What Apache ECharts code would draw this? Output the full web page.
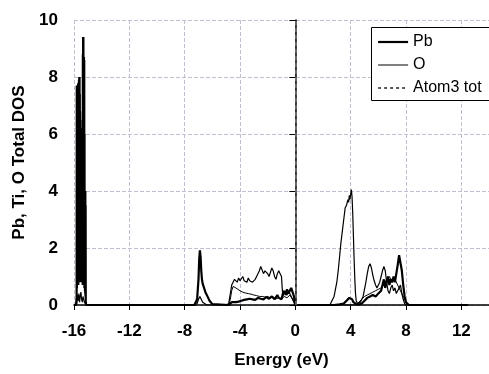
<!DOCTYPE html>
<html>
<head>
<meta charset="utf-8">
<script src="https://cdn.jsdelivr.net/npm/echarts@6/dist/echarts.min.js"></script>
<style>
html,body{margin:0;padding:0;background:#fff;}
#chart{width:489px;height:374px;}
</style>
</head>
<body>
<div id="chart"></div>
<script>
// Energy (eV) / DOS pairs
const xTicks = [-16, -12, -8, -4, 0, 4, 8, 12];
const yTicks = [0, 2, 4, 6, 8, 10];
const seriesNames = ['Pb', 'O', 'Atom3 tot'];

const pbData = [
  [-16,0],[-15.85,0],[-15.81,0.3],[-15.8,7.7],[-15.79,0.6],[-15.78,7.7],[-15.77,0.9],[-15.76,7.7],[-15.75,1.2],
  [-15.74,7.7],[-15.73,0.8],[-15.72,7.7],[-15.71,1.0],[-15.7,7.75],[-15.69,0.7],[-15.68,7.8],[-15.67,1.1],
  [-15.66,7.8],[-15.65,0.9],[-15.64,7.9],[-15.63,1.2],[-15.62,8.0],[-15.61,0.8],[-15.6,8.0],[-15.59,1.0],
  [-15.58,7.4],[-15.57,0.9],[-15.56,6.8],[-15.55,1.1],[-15.54,6.5],[-15.53,0.8],[-15.52,6.2],[-15.51,1.0],
  [-15.5,6.0],[-15.49,0.9],[-15.48,6.1],[-15.47,1.2],[-15.46,5.8],[-15.45,0.8],[-15.44,6.0],[-15.43,1.0],
  [-15.42,5.6],[-15.41,0.9],[-15.4,6.2],[-15.39,1.1],[-15.38,6.0],[-15.37,0.7],[-15.36,8.8],[-15.35,1.0],
  [-15.34,9.4],[-15.33,0.8],[-15.32,9.4],[-15.31,1.2],[-15.3,8.7],[-15.29,0.9],[-15.28,8.7],[-15.27,1.0],
  [-15.26,8.6],[-15.25,0.6],[-15.24,6.0],[-15.23,0.8],[-15.22,4.0],[-15.21,0.5],[-15.2,4.0],[-15.19,0.4],
  [-15.18,4.0],[-15.17,0.3],[-15.16,3.5],[-15.15,0.1],[-15.13,0],
  [-7.3,0],[-7.2,0.05],[-7.1,0.2],[-7.0,0.9],[-6.95,1.6],[-6.9,1.92],[-6.85,1.7],[-6.8,1.2],[-6.75,0.9],
  [-6.7,0.75],[-6.6,0.6],[-6.5,0.45],[-6.4,0.35],[-6.3,0.25],[-6.2,0.15],[-6.1,0.08],[-6.0,0.03],[-5.9,0],
  [-4.8,0],[-4.7,0.05],[-4.6,0.1],[-4.5,0.12],[-4.3,0.1],[-4.1,0.12],[-3.9,0.15],[-3.7,0.18],[-3.5,0.2],
  [-3.3,0.22],[-3.1,0.2],[-2.9,0.18],[-2.7,0.25],[-2.5,0.22],[-2.3,0.2],[-2.1,0.28],[-1.9,0.22],[-1.7,0.3],
  [-1.5,0.2],[-1.3,0.35],[-1.2,0.25],[-1.1,0.3],[-1.0,0.2],[-0.9,0.4],[-0.8,0.5],[-0.7,0.35],[-0.6,0.55],
  [-0.5,0.4],[-0.4,0.5],[-0.3,0.6],[-0.2,0.45],[-0.15,0.5],[-0.1,0.3],[-0.05,0.1],[0,0],
  [2.8,0],[3.2,0.02],[3.5,0.05],[3.7,0.15],[3.9,0.25],[4.0,0.3],[4.1,0.2],[4.2,0.1],[4.4,0.03],[4.6,0.02],
  [4.8,0.05],[5.0,0.15],[5.2,0.25],[5.4,0.3],[5.6,0.35],[5.8,0.3],[6.0,0.4],[6.2,0.5],[6.3,0.7],[6.4,0.9],
  [6.5,0.6],[6.6,0.8],[6.7,1.0],[6.8,0.7],[6.9,0.9],[7.0,0.8],[7.1,1.0],[7.2,0.8],[7.3,1.1],[7.4,1.4],
  [7.5,1.75],[7.55,1.8],[7.6,1.7],[7.7,1.2],[7.8,0.7],[7.9,0.3],[8.0,0.1],[8.1,0.03],[8.2,0],[12.5,0]
];

const oData = [
  [-16,0],[-15.8,0.05],[-15.75,0.35],[-15.7,0.15],[-15.65,0.4],[-15.6,0.1],[-15.55,0.3],[-15.5,0.45],
  [-15.45,0.2],[-15.4,0.1],[-15.35,0.3],[-15.3,0.35],[-15.25,0.1],[-15.2,0.05],[-15.1,0],
  [-7.3,0],[-7.1,0.05],[-7.0,0.2],[-6.9,0.3],[-6.8,0.25],[-6.7,0.1],[-6.6,0.04],[-6.4,0],
  [-4.9,0],[-4.8,0.1],[-4.7,0.4],[-4.6,0.7],[-4.5,0.8],[-4.4,0.9],[-4.3,0.85],[-4.2,0.8],[-4.1,0.95],
  [-4.0,0.85],[-3.9,0.9],[-3.8,1.0],[-3.7,0.85],[-3.6,0.9],[-3.5,0.8],[-3.4,0.95],[-3.3,0.85],[-3.2,0.9],
  [-3.1,0.8],[-3.0,0.85],[-2.9,0.9],[-2.8,1.0],[-2.7,1.05],[-2.6,1.2],[-2.5,1.35],[-2.45,1.4],[-2.4,1.3],
  [-2.3,1.1],[-2.2,1.2],[-2.1,1.25],[-2.0,1.1],[-1.9,1.0],[-1.8,1.15],[-1.7,1.3],[-1.6,1.2],[-1.5,1.0],
  [-1.4,0.9],[-1.3,1.1],[-1.2,1.2],[-1.1,1.1],[-1.0,1.0],[-0.95,0.6],[-0.9,0.3],[-0.8,0.45],[-0.7,0.5],
  [-0.6,0.35],[-0.5,0.5],[-0.4,0.4],[-0.3,0.3],[-0.2,0.25],[-0.1,0.1],[0,0],
  [2.5,0],[2.6,0.05],[2.8,0.3],[3.0,0.8],[3.1,1.2],[3.2,1.7],[3.3,2.2],[3.4,2.6],[3.5,3.0],[3.6,3.4],
  [3.7,3.5],[3.8,3.7],[3.85,3.6],[3.9,3.85],[3.95,3.7],[4.0,3.9],[4.05,4.05],[4.1,3.8],[4.15,3.2],
  [4.2,2.4],[4.25,1.6],[4.3,0.9],[4.35,0.4],[4.4,0.15],[4.5,0.05],[4.7,0.1],[4.9,0.3],[5.1,0.8],[5.2,1.1],
  [5.3,1.35],[5.4,1.45],[5.5,1.3],[5.6,1.05],[5.7,0.85],[5.8,0.7],[5.9,0.6],[6.0,0.65],[6.1,0.8],[6.2,1.0],
  [6.3,1.2],[6.4,1.35],[6.45,1.4],[6.5,1.2],[6.6,0.8],[6.7,0.5],[6.8,0.4],[6.9,0.6],[7.0,0.7],[7.1,0.5],
  [7.2,0.6],[7.3,0.4],[7.4,0.5],[7.5,0.6],[7.6,0.7],[7.7,0.4],[7.8,0.2],[7.9,0.05],[8.0,0]
];

const atom3Data = [
  [-4.8,0],[-4.7,0.2],[-4.6,0.5],[-4.5,0.65],[-4.4,0.7],[-4.3,0.6],[-4.2,0.55],[-4.0,0.5],[-3.8,0.45],
  [-3.6,0.42],[-3.4,0.4],[-3.2,0.38],[-3.0,0.35],[-2.8,0.33],[-2.6,0.3],[-2.4,0.3],[-2.2,0.28],[-2.0,0.3],
  [-1.8,0.25],[-1.6,0.28],[-1.4,0.22],[-1.2,0.25],[-1.0,0.2],[-0.8,0.3],[-0.6,0.25],[-0.4,0.35],[-0.2,0.2],
  [-0.1,0.1],[0,0],
  [4.4,0],[4.6,0.1],[4.8,0.2],[5.0,0.3],[5.2,0.35],[5.4,0.4],[5.6,0.45],[5.8,0.5],[6.0,0.55],[6.2,0.6],
  [6.4,0.7],[6.6,0.9],[6.8,1.0],[7.0,0.8],[7.2,0.9],[7.4,0.7],[7.6,0.5],[7.8,0.3],[8.0,0.1],[8.2,0]
];

const FONT = 'Liberation Sans, Arial, sans-serif';
const chart = echarts.init(document.getElementById('chart'), null, {renderer: 'canvas'});
const hiddenSymbol = {color: 'rgba(0,0,0,0)', borderColor: 'rgba(0,0,0,0)', borderWidth: 0};

chart.setOption({
  animation: false,
  backgroundColor: '#ffffff',
  color: ['#000', '#000', '#000'],
  grid: {left: 74, right: -4, top: 20, bottom: 68, containLabel: false},
  graphic: [{
    type: 'rect', left: 371, top: 27, z: 10,
    shape: {width: 150, height: 73},
    style: {fill: '#fff', stroke: '#000', lineWidth: 1}
  }],
  legend: {
    orient: 'vertical',
    left: 371, top: 27, z: 20,
    padding: [7, 6, 5, 6],
    itemWidth: 30, itemHeight: 16, itemGap: 7,
    borderWidth: 0,
    itemStyle: hiddenSymbol,
    data: [
      {name: seriesNames[0], itemStyle: hiddenSymbol, lineStyle: {color: '#000', width: 2.2, type: 'solid'}},
      {name: seriesNames[1], itemStyle: hiddenSymbol, lineStyle: {color: '#000', width: 1, type: 'solid'}},
      {name: seriesNames[2], itemStyle: hiddenSymbol, lineStyle: {color: '#000', width: 1.3, type: [3, 3]}}
    ],
    textStyle: {fontFamily: FONT, fontSize: 16, color: '#000'}
  },
  xAxis: {
    type: 'value',
    min: -16, max: 14, interval: 4,
    name: 'Energy (eV)', nameLocation: 'middle', nameGap: 47,
    nameTextStyle: {fontFamily: FONT, fontSize: 17, fontWeight: 'bold', color: '#000'},
    axisLine: {lineStyle: {color: '#000', width: 1.5}},
    axisTick: {show: true, length: 5, lineStyle: {color: '#000'}},
    axisLabel: {fontFamily: FONT, fontSize: 17, fontWeight: 'bold', color: '#000', margin: 18,
      showMaxLabel: false,
      formatter: function (v) { return xTicks.indexOf(v) >= 0 ? String(v) : ''; }},
    splitLine: {show: true, lineStyle: {color: '#c0c0d0', type: 'dashed', width: 1}}
  },
  yAxis: {
    type: 'value',
    min: 0, max: 10, interval: 2,
    name: 'Pb, Ti, O Total DOS', nameLocation: 'middle', nameGap: 42,
    nameTextStyle: {fontFamily: FONT, fontSize: 17, fontWeight: 'bold', color: '#000'},
    axisLine: {show: true, lineStyle: {color: '#000', width: 1.5}},
    axisTick: {show: true, length: 6, lineStyle: {color: '#000'}},
    axisLabel: {fontFamily: FONT, fontSize: 17, fontWeight: 'bold', color: '#000', margin: 16,
      formatter: function (v) { return yTicks.indexOf(v) >= 0 ? String(v) : ''; }},
    splitLine: {show: true, lineStyle: {color: '#c0c0d0', type: 'dashed', width: 1}}
  },
  series: [
    {
      name: 'Atom3 tot', type: 'line', data: atom3Data, showSymbol: false, symbol: 'none',
      itemStyle: {color: '#000'},
      lineStyle: {color: '#000', width: 1}, z: 2
    },
    {
      name: 'O', type: 'line', data: oData, showSymbol: false, symbol: 'none',
      itemStyle: {color: '#000'},
      lineStyle: {color: '#000', width: 1.2}, z: 3
    },
    {
      name: 'Pb', type: 'line', data: pbData, showSymbol: false, symbol: 'none',
      itemStyle: {color: '#000'},
      lineStyle: {color: '#000', width: 2.2}, z: 4,
      markLine: {
        silent: true, symbol: ['none', 'none'], label: {show: false},
        lineStyle: {color: '#777', type: [4, 3], width: 1.5},
        data: [{xAxis: 0}]
      }
    }
  ]
});
</script>
</body>
</html>
